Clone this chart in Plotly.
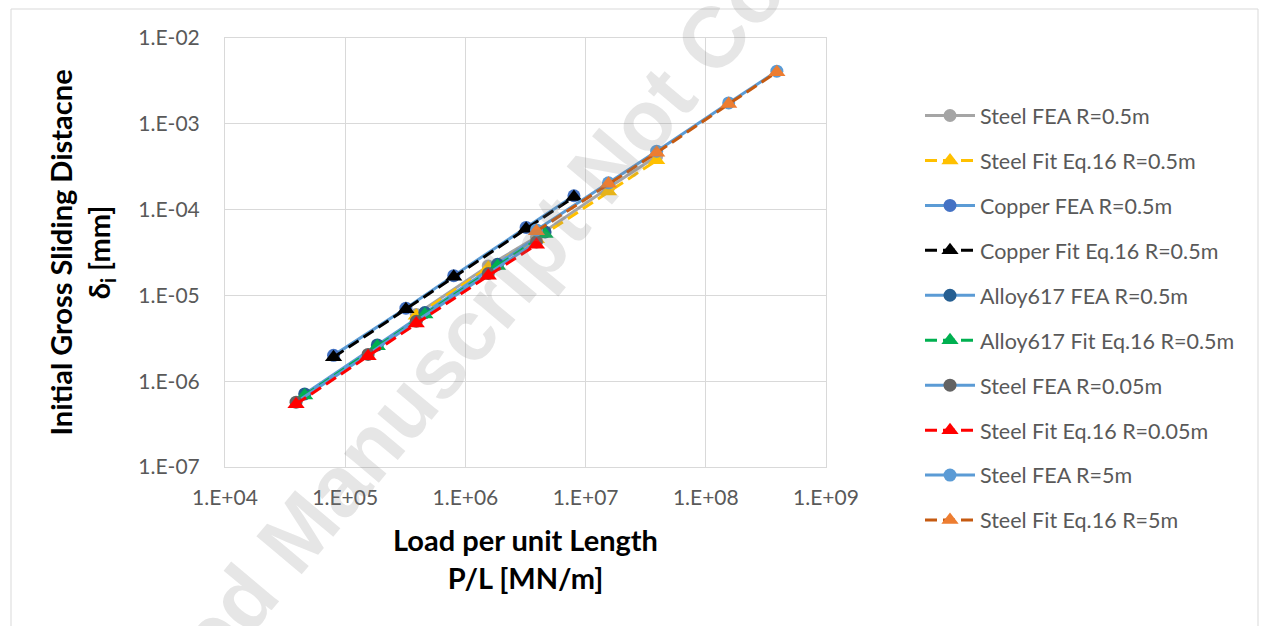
import plotly.graph_objects as go

# ---- data ----
x_steel_05 = [3.9e5, 1.55e6, 3.9e6, 1.55e7, 3.9e7]
y_steel_05_fea = [6.0e-6, 2.2e-5, 4.8e-5, 1.8e-4, 4.2e-4]
y_steel_05_fit = [5.8e-6, 2.1e-5, 4.5e-5, 1.62e-4, 3.75e-4]

x_copper_05 = [8.0e4, 3.2e5, 8.0e5, 3.2e6, 8.0e6]
y_copper_05_fea = [2.0e-6, 7.1e-6, 1.7e-5, 6.2e-5, 1.45e-4]
y_copper_05_fit = [1.9e-6, 6.9e-6, 1.65e-5, 6.0e-5, 1.4e-4]

x_alloy_05 = [4.6e4, 1.85e5, 4.6e5, 1.85e6, 4.6e6]
y_alloy_05_fea = [7.1e-7, 2.65e-6, 6.3e-6, 2.3e-5, 5.5e-5]
y_alloy_05_fit = [6.8e-7, 2.55e-6, 6.0e-6, 2.2e-5, 5.2e-5]

x_steel_005 = [3.9e4, 1.55e5, 3.9e5, 1.55e6, 3.9e6]
y_steel_005_fea = [5.7e-7, 2.05e-6, 5.0e-6, 1.8e-5, 4.2e-5]
y_steel_005_fit = [5.4e-7, 1.95e-6, 4.7e-6, 1.7e-5, 3.9e-5]

x_steel_5 = [3.9e6, 1.55e7, 3.9e7, 1.55e8, 3.9e8]
y_steel_5_fea = [5.8e-5, 2.05e-4, 4.8e-4, 1.75e-3, 4.1e-3]
y_steel_5_fit = [5.6e-5, 2.0e-4, 4.6e-4, 1.7e-3, 4.0e-3]

x_tick_vals = [1e4, 1e5, 1e6, 1e7, 1e8, 1e9]
x_tick_text = ["1.E+04", "1.E+05", "1.E+06", "1.E+07", "1.E+08", "1.E+09"]
y_tick_vals = [1e-7, 1e-6, 1e-5, 1e-4, 1e-3, 1e-2]
y_tick_text = ["1.E-07", "1.E-06", "1.E-05", "1.E-04", "1.E-03", "1.E-02"]

FONT = "Lato"
fig = go.Figure()

series = [
    ("Steel FEA R=0.5m", x_steel_05, y_steel_05_fea, "fea", "#A5A5A5", "#A5A5A5"),
    ("Steel Fit Eq.16 R=0.5m", x_steel_05, y_steel_05_fit, "fit", "#FFC000", "#FFC000"),
    ("Copper FEA R=0.5m", x_copper_05, y_copper_05_fea, "fea", "#5B9BD5", "#4472C4"),
    ("Copper Fit Eq.16 R=0.5m", x_copper_05, y_copper_05_fit, "fit", "#000000", "#000000"),
    ("Alloy617 FEA R=0.5m", x_alloy_05, y_alloy_05_fea, "fea", "#5B9BD5", "#255E91"),
    ("Alloy617 Fit Eq.16 R=0.5m", x_alloy_05, y_alloy_05_fit, "fit", "#00B050", "#00B050"),
    ("Steel FEA R=0.05m", x_steel_005, y_steel_005_fea, "fea", "#5B9BD5", "#636363"),
    ("Steel Fit Eq.16 R=0.05m", x_steel_005, y_steel_005_fit, "fit", "#FF0000", "#FF0000"),
    ("Steel FEA R=5m", x_steel_5, y_steel_5_fea, "fea", "#5B9BD5", "#5B9BD5"),
    ("Steel Fit Eq.16 R=5m", x_steel_5, y_steel_5_fit, "fit", "#C55A11", "#ED7D31"),
]

for i, (name, xs, ys, kind, lc, mc) in enumerate(series):
    if kind == "fea":
        line = dict(color=lc, width=3)
        marker = dict(symbol="circle", size=13, color=mc)
    else:
        line = dict(color=lc, width=3, dash="12px,6px")
        marker = dict(symbol="triangle-up", size=15, color=mc)
    fig.add_trace(go.Scatter(x=xs, y=ys, name=name, mode="lines+markers",
                             line=line, marker=marker, legendgroup=f"g{i}"))

# plot area in pixels: x 225..826, y 38..467
L, R, T, B = 225, 826, 38, 467
W, H = R - L, B - T

def px(xp):
    return (xp - L) / W

def py(yp):
    return (B - yp) / H

axis_common = dict(type="log", showgrid=True, gridcolor="#D9D9D9", gridwidth=1,
                   showline=True, linecolor="#D9D9D9", linewidth=1, mirror=True,
                   ticks="", zeroline=False,
                   tickfont=dict(family=FONT, size=21, color="#595959"))

fig.update_layout(
    width=1261, height=626,
    margin=dict(l=L, r=1261 - R, t=T, b=626 - B),
    paper_bgcolor="white", plot_bgcolor="white",
    font=dict(family=FONT),
    xaxis=dict(range=[4, 9], tickvals=x_tick_vals, ticktext=x_tick_text,
               ticklabelstandoff=12,
               title=dict(text="<b>Load per unit Length<br>P/L [MN/m]</b>",
                          font=dict(family=FONT, size=29, color="#000000"), standoff=22),
               **axis_common),
    yaxis=dict(range=[-7, -2], tickvals=y_tick_vals, ticktext=y_tick_text,
               ticklabelstandoff=20,
               title=dict(text="<b>Initial Gross Sliding Distacne<br>δ<sub>i</sub> [mm]</b>",
                          font=dict(family=FONT, size=29, color="#000000"), standoff=19),
               **axis_common),
    legend=dict(x=px(920), y=py(95), xanchor="left", yanchor="top",
                font=dict(family=FONT, size=21.5, color="#595959"),
                itemwidth=50, tracegroupgap=14, bgcolor="rgba(0,0,0,0)",
                maxheight=580),
    showlegend=True,
    shapes=[dict(type="rect", xref="paper", yref="paper",
                 x0=px(11), x1=px(1258), y0=py(640), y1=py(9),
                 line=dict(color="#D9D9D9", width=1), fillcolor="rgba(0,0,0,0)", layer="below")],
    annotations=[dict(text="<b>Accepted Manuscript Not Copyedited</b>", xref="paper", yref="paper",
                      x=px(502), y=py(289), xanchor="center", yanchor="middle",
                      showarrow=False, textangle=-50,
                      font=dict(family="Liberation Sans", size=86, color="rgba(128,128,128,0.2)"))],
)

fig.write_html("out.html")
